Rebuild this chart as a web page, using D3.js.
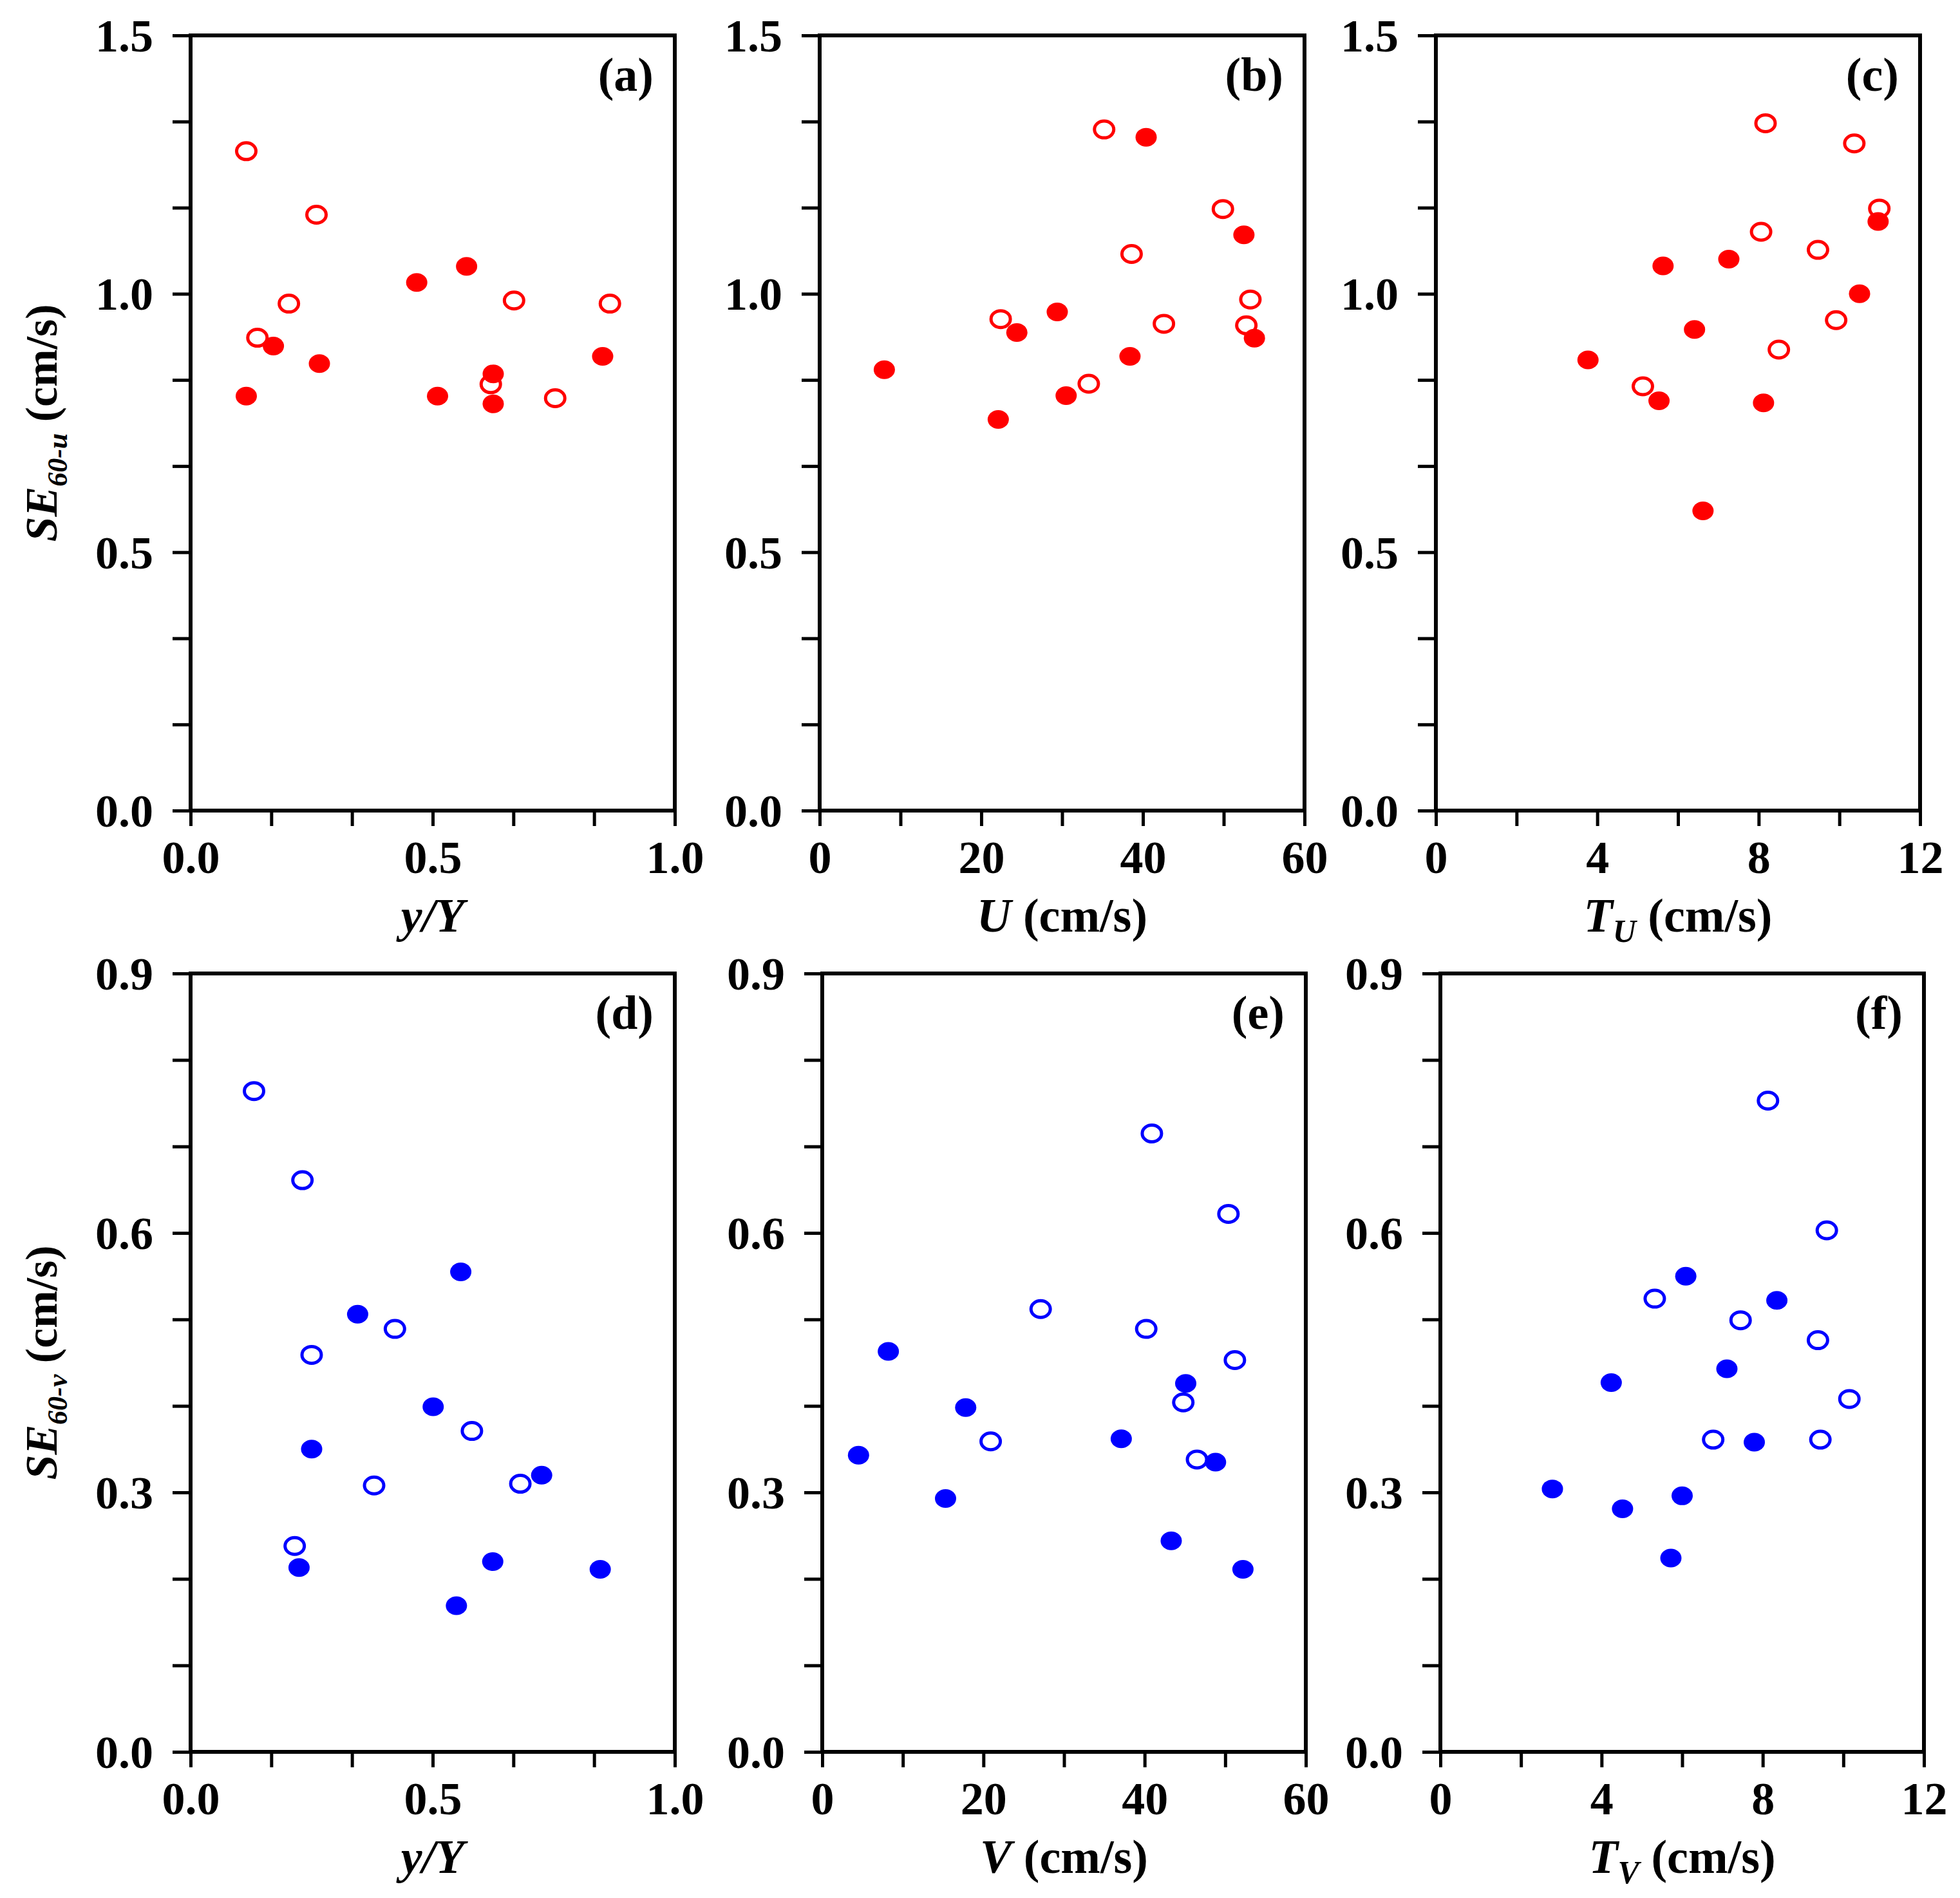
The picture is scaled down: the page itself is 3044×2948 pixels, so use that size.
<!DOCTYPE html>
<html><head><meta charset="utf-8">
<script src="https://cdn.jsdelivr.net/npm/d3@7"></script>
<style>body{margin:0;background:#fff}</style>
</head><body>
<script>
// ---------- DATA ----------
// (a) SE60-u vs y/Y
const a_open_x = [0.115, 0.260, 0.203, 0.138, 0.620, 0.668, 0.753, 0.866];
const a_open_y = [1.276, 1.153, 0.981, 0.915, 0.825, 0.987, 0.798, 0.981];
const a_fill_x = [0.115, 0.171, 0.266, 0.467, 0.570, 0.510, 0.625, 0.625, 0.851];
const a_fill_y = [0.802, 0.899, 0.865, 1.022, 1.053, 0.802, 0.845, 0.787, 0.879];
// (b) SE60-u vs U
const b_open_x = [35.2, 49.9, 38.6, 53.3, 22.4, 42.6, 52.8, 33.3];
const b_open_y = [1.318, 1.164, 1.077, 0.989, 0.951, 0.942, 0.939, 0.826];
const b_fill_x = [40.4, 52.5, 29.4, 24.4, 53.8, 8.0, 38.4, 30.5, 22.1];
const b_fill_y = [1.303, 1.114, 0.965, 0.925, 0.914, 0.853, 0.879, 0.803, 0.757];
// (c) SE60-u vs T_U
const c_open_x = [8.17, 10.37, 10.99, 8.06, 9.47, 9.92, 8.50, 5.13];
const c_open_y = [1.330, 1.291, 1.165, 1.120, 1.085, 0.949, 0.892, 0.821];
const c_fill_x = [10.96, 5.63, 7.26, 10.50, 6.41, 3.77, 5.53, 8.12, 6.62];
const c_fill_y = [1.140, 1.054, 1.067, 1.000, 0.931, 0.872, 0.793, 0.789, 0.580];
// (d) SE60-v vs y/Y
const d_open_x = [0.131, 0.231, 0.422, 0.250, 0.581, 0.379, 0.681, 0.215];
const d_open_y = [0.764, 0.661, 0.489, 0.459, 0.371, 0.308, 0.310, 0.238];
const d_fill_x = [0.558, 0.345, 0.501, 0.250, 0.725, 0.224, 0.624, 0.846, 0.549];
const d_fill_y = [0.555, 0.506, 0.399, 0.350, 0.320, 0.213, 0.220, 0.211, 0.169];
// (e) SE60-v vs V
const e_open_x = [40.9, 50.4, 27.1, 40.2, 51.2, 44.8, 20.9, 46.5];
const e_open_y = [0.715, 0.622, 0.512, 0.489, 0.453, 0.404, 0.359, 0.338];
const e_fill_x = [8.2, 17.8, 4.5, 15.3, 37.1, 45.1, 48.8, 43.3, 52.2];
const e_fill_y = [0.463, 0.398, 0.343, 0.293, 0.362, 0.426, 0.335, 0.244, 0.211];
// (f) SE60-v vs T_V
const f_open_x = [8.13, 9.59, 5.32, 7.45, 9.37, 10.15, 6.77, 9.43];
const f_open_y = [0.753, 0.603, 0.524, 0.499, 0.476, 0.408, 0.361, 0.361];
const f_fill_x = [6.09, 8.35, 7.11, 4.24, 2.78, 6.00, 7.79, 4.52, 5.72];
const f_fill_y = [0.550, 0.522, 0.443, 0.427, 0.304, 0.296, 0.358, 0.281, 0.224];

// tick labels
const xLabels_yY = ["0.0", "0.5", "1.0"];
const xLabels_U = ["0", "20", "40", "60"];
const xLabels_T = ["0", "4", "8", "12"];
const yLabels_u = ["0.0", "0.5", "1.0", "1.5"];
const yLabels_v = ["0.0", "0.3", "0.6", "0.9"];

// ---------- LAYOUT ----------
const W = 3044, H = 2948;
const FONT = "'Liberation Serif','Times New Roman',serif";
const svg = d3.select("body").append("svg").attr("width", W).attr("height", H)
  .style("font-family", FONT).style("font-weight", "bold");

const panels = [
  {id:"(a)", row:0, x0:296, x1:1048, xMax:1, xStep:1/6, xLab:xLabels_yY, xEvery:3, color:"#ff0000",
   ox:a_open_x, oy:a_open_y, fx:a_fill_x, fy:a_fill_y, xt:"yY"},
  {id:"(b)", row:0, x0:1273, x1:2026, xMax:60, xStep:10, xLab:xLabels_U, xEvery:2, color:"#ff0000",
   ox:b_open_x, oy:b_open_y, fx:b_fill_x, fy:b_fill_y, xt:"U"},
  {id:"(c)", row:0, x0:2230, x1:2982, xMax:12, xStep:2, xLab:xLabels_T, xEvery:2, color:"#ff0000",
   ox:c_open_x, oy:c_open_y, fx:c_fill_x, fy:c_fill_y, xt:"TU"},
  {id:"(d)", row:1, x0:296, x1:1048, xMax:1, xStep:1/6, xLab:xLabels_yY, xEvery:3, color:"#0000ff",
   ox:d_open_x, oy:d_open_y, fx:d_fill_x, fy:d_fill_y, xt:"yY"},
  {id:"(e)", row:1, x0:1277, x1:2028, xMax:60, xStep:10, xLab:xLabels_U, xEvery:2, color:"#0000ff",
   ox:e_open_x, oy:e_open_y, fx:e_fill_x, fy:e_fill_y, xt:"V"},
  {id:"(f)", row:1, x0:2237, x1:2988, xMax:12, xStep:2, xLab:xLabels_T, xEvery:2, color:"#0000ff",
   ox:f_open_x, oy:f_open_y, fx:f_fill_x, fy:f_fill_y, xt:"TV"}
];
const rows = [
  {y0:55, y1:1259, yMax:1.5, yStep:1/6, yLab:yLabels_u, yEvery:3, sub:"60-u"},
  {y0:1512, y1:2721, yMax:0.9, yStep:0.1, yLab:yLabels_v, yEvery:3, sub:"60-v"}
];

const TICKFS = 72, TITLEFS = 74, LW = 6;

panels.forEach(p => {
  const r = rows[p.row];
  const x = d3.scaleLinear().domain([0, p.xMax]).range([p.x0, p.x1]);
  const y = d3.scaleLinear().domain([0, r.yMax]).range([r.y1, r.y0]);
  const g = svg.append("g");

  // y axis
  const yTicks = d3.range(0, Math.round(r.yMax / r.yStep) + 1).map(i => i * r.yStep);
  const yAx = d3.axisLeft(y).tickValues(yTicks).tickSize(28).tickPadding(30)
    .tickFormat((d, i) => i % r.yEvery === 0 ? r.yLab[i / r.yEvery] : "");
  const ya = g.append("g").attr("transform", `translate(${p.x0},0)`).call(yAx);
  // x axis
  const xTicks = d3.range(0, Math.round(p.xMax / p.xStep) + 1).map(i => i * p.xStep);
  const xAx = d3.axisBottom(x).tickValues(xTicks).tickSize(24).tickPadding(24)
    .tickFormat((d, i) => i % p.xEvery === 0 ? p.xLab[i / p.xEvery] : "");
  const xa = g.append("g").attr("transform", `translate(0,${r.y1})`).call(xAx);
  [ya, xa].forEach(a => {
    a.select(".domain").remove();
    a.selectAll(".tick line").attr("stroke", "#000").attr("stroke-width", 5);
    a.selectAll(".tick text").attr("fill", "#000").style("font-size", TICKFS + "px")
      .style("font-family", FONT).style("font-weight", "bold");
  });
  ya.selectAll(".tick text").attr("dy", "0.34em");
  xa.selectAll(".tick text").attr("dy", "0.68em");

  // frame
  g.append("rect").attr("x", p.x0).attr("y", r.y0).attr("width", p.x1 - p.x0).attr("height", r.y1 - r.y0)
    .attr("fill", "none").attr("stroke", "#000").attr("stroke-width", LW);

  // panel label
  g.append("text").attr("x", p.x1 - 33).attr("y", r.y0 + 86).attr("text-anchor", "end")
    .style("font-size", "74px").text(p.id);

  // markers
  const open = p.ox.map((v, i) => [v, p.oy[i]]);
  const fill = p.fx.map((v, i) => [v, p.fy[i]]);
  g.selectAll(".o").data(open).enter().append("ellipse")
    .attr("cx", d => x(d[0])).attr("cy", d => y(d[1])).attr("rx", 15).attr("ry", 13)
    .attr("fill", "#fff").attr("stroke", p.color).attr("stroke-width", 5);
  g.selectAll(".f").data(fill).enter().append("ellipse")
    .attr("cx", d => x(d[0])).attr("cy", d => y(d[1])).attr("rx", 16.5).attr("ry", 14.5)
    .attr("fill", p.color);

  // x title
  const tb = r.y1 + 188;
  const t = g.append("text").attr("x", (p.x0 + p.x1) / 2).attr("y", tb).attr("text-anchor", "middle")
    .style("font-size", TITLEFS + "px");
  if (p.xt === "yY") {
    t.append("tspan").style("font-style", "italic").text("y/Y");
  } else if (p.xt === "U" || p.xt === "V") {
    t.append("tspan").style("font-style", "italic").text(p.xt);
    t.append("tspan").text(" (cm/s)");
  } else {
    t.append("tspan").style("font-style", "italic").text("T");
    t.append("tspan").style("font-style", "italic").style("font-size", "50px").attr("dy", 16).text(p.xt[1]);
    t.append("tspan").attr("dy", -16).text(" (cm/s)");
  }
});

// y titles
rows.forEach(r => {
  const cy = (r.y0 + r.y1) / 2;
  const t = svg.append("text").attr("transform", `translate(88,${cy}) rotate(-90)`)
    .attr("text-anchor", "middle").style("font-size", "70px");
  t.append("tspan").style("font-style", "italic").text("SE");
  t.append("tspan").style("font-style", "italic").style("font-size", "44px").attr("dy", 16).text(r.sub);
  t.append("tspan").attr("dy", -16).text(" (cm/s)");
});
</script>
</body></html>
